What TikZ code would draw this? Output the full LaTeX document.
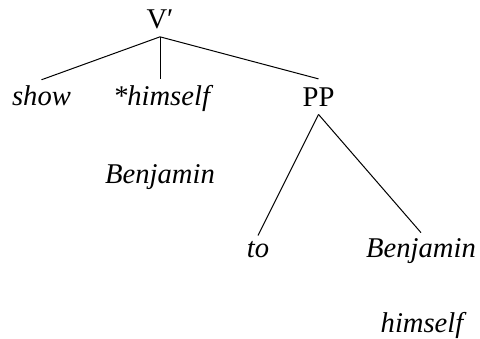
\documentclass[tikz,border=0pt]{standalone}
\usepackage{fontspec}
\setmainfont{Liberation Serif}
\usetikzlibrary{positioning}

\begin{document}
\begin{tikzpicture}[
  x=0.5pt, y=-0.5pt,
  font=\fontsize{14.3}{17}\selectfont,
  cat/.style={inner sep=4pt, anchor=base},
  word/.style={inner sep=2.5pt, anchor=base, font=\fontsize{14.3}{17}\selectfont\itshape},
  branch/.style={line width=0.5pt}
]
\useasboundingbox (0,0) rectangle (480,338);

% categories
\node[cat] (vbar) at (160,28) {V′};
\node[cat] (pp) at (318.5,106) {PP};

% words
\node[word] (show) at (41.5,105) {show};
\node[word] (refl) at (161.5,105) {*himself};
\node[word] (benj) at (160,183) {Benjamin};
\node[word] (to) at (258,257) {to};
\node[word] (obj) at (421,257) {Benjamin};
\node[word] (self) at (422,332) {himself};

% branches
\draw[branch] (vbar.south) -- (show.north);
\draw[branch] (vbar.south) -- (vbar.south |- refl.north);
\draw[branch] (vbar.south) -- (pp.north);
\draw[branch] (pp.south) -- (to.north);
\draw[branch] (pp.south) -- (obj.north);
\end{tikzpicture}
\end{document}
